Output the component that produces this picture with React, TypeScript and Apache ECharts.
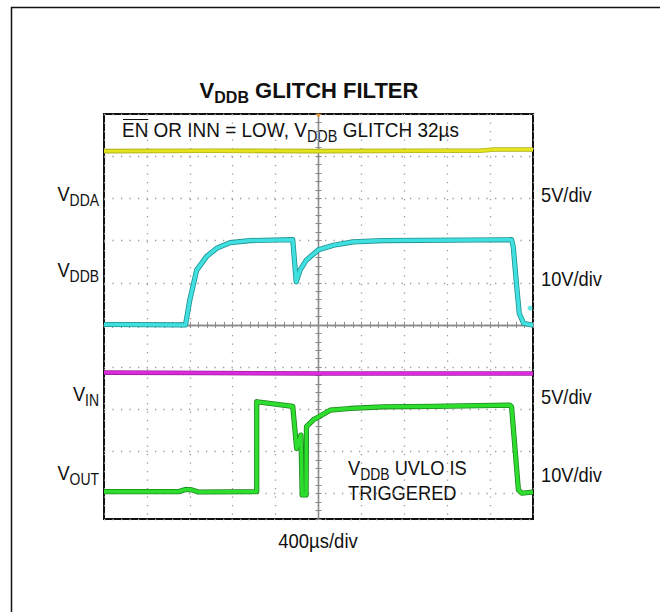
import React, { useEffect, useRef } from "react";
import * as echarts from "echarts";

// Time axis: 400 µs/div, 10 divisions, trigger at centre (µs)
const TIME_MIN = -2000;
const TIME_MAX = 2000;
const TIME_DIV = 400;

// Vertical scale in screen divisions relative to the centre line
const DIV_MIN = -4.6;
const DIV_MAX = 5;

// Traces: [time µs, position in divisions]
const vddaTrace: [number, number][] = [
  [-2000, 4.12], [-1000, 4.13], [0, 4.12], [1000, 4.13], [1500, 4.13], [1640, 4.16], [2000, 4.16],
];
const vddbTrace: [number, number][] = [
  [-2000, 0.01], [-1240, 0.0], [-1200, 0.59], [-1136, 1.3], [-1044, 1.62], [-948, 1.82],
  [-824, 1.95], [-640, 2.0], [-240, 2.02], [-208, 1.02], [-172, 1.3], [-112, 1.54],
  [0, 1.78], [140, 1.89], [324, 1.97], [604, 2.0], [1800, 2.02], [1816, 1.85],
  [1848, 0.91], [1872, 0.27], [1912, 0.04], [1988, 0.0], [2000, 0.0],
];
const vddbMarker: [number, number][] = [[1972, 0.4]];
const vinTrace: [number, number][] = [
  [-2000, -1.13], [-1000, -1.14], [0, -1.15], [1000, -1.15], [2000, -1.15],
];
const voutTrace: [number, number][] = [
  [-2000, -3.95], [-1300, -3.95], [-1240, -3.9], [-1180, -3.91], [-1120, -3.96],
  [-576, -3.95], [-576, -1.82], [-240, -1.93], [-204, -2.93], [-164, -2.61],
  [-152, -4.03], [-116, -4.03], [-112, -2.41], [-48, -2.25], [0, -2.18], [108, -2.02],
  [292, -1.98], [604, -1.94], [1072, -1.93], [1784, -1.9], [1800, -1.94],
  [1864, -3.91], [1896, -3.99], [2000, -3.96],
];
const triggerMarker: [number, number][] = [[0, 4.96]];

// Texts: pieces are [text, isSubscript]
type Piece = [string, boolean];
const titlePieces: Piece[] = [["V", false], ["DDB", true], [" GLITCH FILTER", false]];
const notePieces: Piece[] = [["EN OR INN = LOW, V", false], ["DDB", true], [" GLITCH 32µs", false]];
const overlined = "EN";
const uvloPieces: Piece[] = [["V", false], ["DDB", true], [" UVLO IS", false]];
const uvloLine2 = "TRIGGERED";
const channelLabels: { pieces: Piece[]; y: number }[] = [
  { pieces: [["V", false], ["DDA", true]], y: 194 },
  { pieces: [["V", false], ["DDB", true]], y: 270 },
  { pieces: [["V", false], ["IN", true]], y: 394 },
  { pieces: [["V", false], ["OUT", true]], y: 473 },
];
const scaleLabels = [
  { text: "5V/div", y: 195 },
  { text: "10V/div", y: 279 },
  { text: "5V/div", y: 397 },
  { text: "10V/div", y: 475 },
];
const timeLabel = "400µs/div";

const FONT_NAME = "Liberation Sans";
const FONT = "'Liberation Sans', Arial, Helvetica, sans-serif";
const INK = "#111111";

let measureCtx: CanvasRenderingContext2D | null = null;
function textWidth(t: string, size: number, weight: string) {
  if (!measureCtx) measureCtx = document.createElement("canvas").getContext("2d");
  if (!measureCtx) return t.length * size * 0.55;
  measureCtx.font = `${weight} ${size}px '${FONT_NAME}'`;
  return measureCtx.measureText(t).width;
}

// Builds a group of text pieces with lowered subscripts
function subText(
  pieces: Piece[], x: number, y: number, align: "left" | "center" | "right",
  main: number, sub: number, weight: string, scaleX: number, drop: number,
) {
  const widths = pieces.map(([t, s]) => textWidth(t, s ? sub : main, weight));
  const total = widths.reduce((a, b) => a + b, 0);
  let cursor = align === "left" ? 0 : align === "center" ? -total / 2 : -total;
  const children: any[] = pieces.map(([t, s], i) => {
    const el = {
      type: "text",
      x: cursor,
      y: s ? 0.3465 * (main - sub) + drop : 0,
      style: {
        text: t, fontSize: s ? sub : main, fontFamily: FONT, fontWeight: weight,
        fill: INK, align: "left", verticalAlign: "middle",
      },
    };
    cursor += widths[i];
    return el;
  });
  return { type: "group", x, y, scaleX, children };
}

function piecesWidth(pieces: Piece[], main: number, sub: number, weight: string) {
  return pieces.reduce((a, [t, s]) => a + textWidth(t, s ? sub : main, weight), 0);
}

function buildOption() {
  const GRID = { left: 104, top: 114, width: 429, height: 405 };
  const axisGrey = "#8a8a8a";
  const dotStyle = { color: "#9a9a9a", width: 1.3, type: [1.3, 7.2] as number[] };

  const trace = (name: string, data: [number, number][], bright: string, dark: string, w: number) => [
    {
      type: "line", name: name + "-edge", data, xAxisIndex: 0, yAxisIndex: 0,
      symbol: "none", showSymbol: false, silent: true, z: 3,
      lineStyle: { color: dark, width: w + 1.6, join: "round" },
    },
    {
      type: "line", name, data, xAxisIndex: 0, yAxisIndex: 0,
      symbol: "none", showSymbol: false, silent: true, z: 4,
      lineStyle: { color: bright, width: w, join: "round" },
    },
  ];

  const tickAxisX = (position: string) => ({
    type: "value", min: TIME_MIN, max: TIME_MAX, interval: TIME_DIV / 5, position,
    axisLine: { show: true, onZero: true, onZeroAxisIndex: 0, lineStyle: { color: axisGrey, width: 1.3 } },
    axisTick: { show: true, length: 3, lineStyle: { color: axisGrey, width: 1 } },
    axisLabel: { show: false }, splitLine: { show: false },
  });
  const tickAxisY = (position: string) => ({
    type: "value", min: DIV_MIN, max: DIV_MAX, interval: 0.2, position,
    axisLine: { show: true, onZero: true, onZeroAxisIndex: 0, lineStyle: { color: axisGrey, width: 1.3 } },
    axisTick: { show: true, length: 3, lineStyle: { color: axisGrey, width: 1 } },
    axisLabel: { show: false }, splitLine: { show: false },
  });

  // annotation: fit to the width it spans in the figure
  const noteMain = 21;
  const noteSub = 16;
  const noteScale = 337 / piecesWidth(notePieces, noteMain, noteSub, "normal");
  const enWidth = textWidth(overlined, noteMain, "normal") * noteScale;

  const graphics: any[] = [
    // outer frame
    { type: "line", shape: { x1: 11, y1: 7.5, x2: 660, y2: 7.5 }, style: { stroke: INK, lineWidth: 1.5 } },
    { type: "line", shape: { x1: 11.5, y1: 7, x2: 11.5, y2: 612 }, style: { stroke: INK, lineWidth: 1.5 } },
    // title
    subText(titlePieces, 309, 90, "center", 22, 16, "bold", 1, 5),
    // annotation with overline on EN
    subText(notePieces, 122, 130, "left", noteMain, noteSub, "normal", noteScale, 4),
    { type: "line", shape: { x1: 123, y1: 119.5, x2: 122 + enWidth, y2: 119.5 }, style: { stroke: INK, lineWidth: 1 } },
    // UVLO note
    subText(uvloPieces, 348, 468, "left", 21, 16, "normal", 0.87, 4.5),
    {
      type: "text", x: 348, y: 493, scaleX: 0.87,
      style: { text: uvloLine2, fontSize: 21, fontFamily: FONT, align: "left", verticalAlign: "middle", fill: INK },
    },
    // time base
    {
      type: "text", x: 318, y: 541, scaleX: 0.88,
      style: { text: timeLabel, fontSize: 21, fontFamily: FONT, align: "center", verticalAlign: "middle", fill: INK },
    },
  ];
  channelLabels.forEach((c) => {
    graphics.push(subText(c.pieces, 99, c.y, "right", 21, 16, "normal", 0.87, 4.5));
  });
  scaleLabels.forEach((c) => {
    graphics.push({
      type: "text", x: 541, y: c.y, scaleX: 0.87,
      style: { text: c.text, fontSize: 21, fontFamily: FONT, align: "left", verticalAlign: "middle", fill: INK },
    });
  });

  return {
    animation: false,
    backgroundColor: "#ffffff",
    grid: { ...GRID, show: true, borderColor: INK, borderWidth: 2, backgroundColor: "#ffffff" },
    xAxis: [
      tickAxisX("bottom"),
      tickAxisX("top"),
      {
        type: "value", min: TIME_MIN, max: TIME_MAX, interval: TIME_DIV, position: "bottom",
        axisLine: { show: false }, axisTick: { show: false }, axisLabel: { show: false },
        splitLine: { show: true, lineStyle: dotStyle },
      },
    ],
    yAxis: [
      tickAxisY("left"),
      {
        type: "value", inverse: true, min: 0, max: DIV_MAX - DIV_MIN, interval: 1, position: "right",
        axisLine: { show: false }, axisTick: { show: false }, axisLabel: { show: false },
        splitLine: { show: true, lineStyle: dotStyle },
      },
      tickAxisY("right"),
    ],
    series: [
      ...trace("VDDA", vddaTrace, "#e4e41e", "#b0b018", 3),
      ...trace("VIN", vinTrace, "#dc2adc", "#9a229a", 3),
      ...trace("VDDB", vddbTrace, "#40e0e0", "#209090", 3.6),
      ...trace("VOUT", voutTrace, "#2ede2e", "#1c861c", 3.6),
      {
        type: "scatter", name: "VDDB marker", data: vddbMarker, xAxisIndex: 0, yAxisIndex: 0,
        symbol: "circle", symbolSize: 5, itemStyle: { color: "#40e0e0" }, silent: true, z: 5,
      },
      {
        type: "scatter", name: "trigger", data: triggerMarker, xAxisIndex: 0, yAxisIndex: 0,
        symbol: "triangle", symbolRotate: 180, symbolSize: [6, 4], itemStyle: { color: "#e8901a" }, silent: true, z: 5,
      },
    ],
    graphic: graphics,
  };
}

export default function App() {
  const ref = useRef<HTMLDivElement>(null);
  useEffect(() => {
    if (!ref.current) return;
    const chart = echarts.init(ref.current, null, { renderer: "svg" });
    chart.setOption(buildOption() as any);
    return () => chart.dispose();
  }, []);
  return (
    <div
      ref={ref}
      style={{ position: "absolute", left: 0, top: 0, width: 660, height: 612, background: "#fff" }}
    />
  );
}
